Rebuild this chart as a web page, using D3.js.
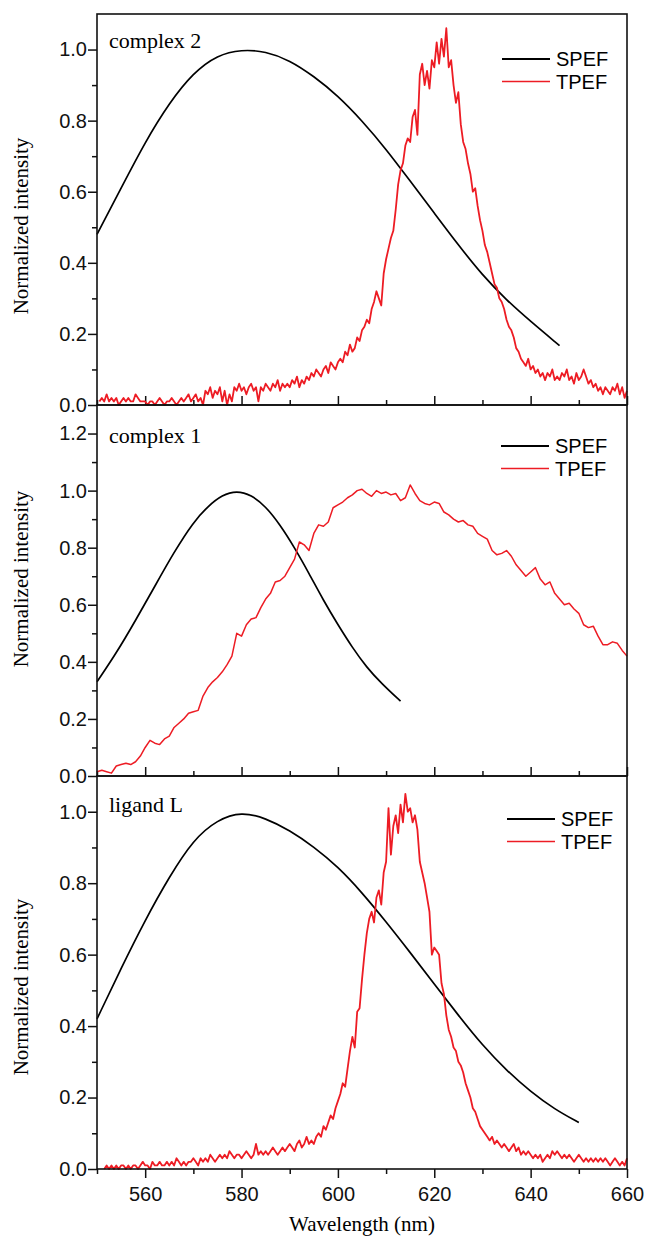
<!DOCTYPE html>
<html>
<head>
<meta charset="utf-8">
<script src="https://cdn.jsdelivr.net/npm/d3@7"></script>
<style>
  body { margin: 0; background: #fff; }
  .tick text { font-family: "Liberation Sans", Arial, sans-serif; font-size: 20px; fill: #111; }
</style>
</head>
<body>
<div class="canvas"></div>
<script>
// ---- data ----

// x axis
var xTicksMajor = [560, 580, 600, 620, 640, 660];
var xTicksMinor = [550, 570, 590, 610, 630, 650];

// y ticks per panel
var yTicks11 = [0.0, 0.2, 0.4, 0.6, 0.8, 1.0];
var yMinor11 = [0.1, 0.3, 0.5, 0.7, 0.9, 1.1];
var yTicks13 = [0.0, 0.2, 0.4, 0.6, 0.8, 1.0, 1.2];
var yMinor13 = [0.1, 0.3, 0.5, 0.7, 0.9, 1.1, 1.3];

// complex 2 - SPEF
var spef2Wl = [550, 555, 560, 565, 570, 575, 580, 585, 590, 595, 600, 605, 610, 615, 620, 625, 630, 635, 640, 646];
var spef2 = [0.48, 0.61, 0.74, 0.85, 0.935, 0.985, 1.0, 0.995, 0.97, 0.925, 0.87, 0.80, 0.72, 0.63, 0.54, 0.45, 0.365, 0.295, 0.235, 0.167];

// complex 2 - TPEF, 550.5 .. 660 nm every 0.5 nm
var tpef2Start = 550.5, tpef2Step = 0.5;
var tpef2 = [
  0.01,0.02,0.01,0.03,0.01,0.02,0.01,0.02,0.00,0.01,
  0.02,0.01,0.02,0.01,0.01,0.03,0.02,0.01,0.01,0.01,
  0.00,0.01,0.01,0.00,0.01,0.02,0.01,0.00,0.01,0.01,
  0.02,0.01,0.00,0.01,0.02,0.01,0.02,0.03,0.01,0.02,
  0.03,0.01,0.02,0.00,0.04,0.03,0.05,0.02,0.04,0.03,
  0.05,0.01,0.04,0.00,0.03,0.01,0.05,0.04,0.06,0.04,
  0.05,0.03,0.05,0.06,0.04,0.05,0.01,0.05,0.04,0.06,
  0.05,0.04,0.06,0.05,0.07,0.04,0.06,0.05,0.06,0.05,
  0.07,0.06,0.08,0.05,0.07,0.06,0.08,0.07,0.09,0.08,
  0.10,0.09,0.08,0.10,0.11,0.09,0.12,0.11,0.10,0.12,
  0.13,0.12,0.15,0.14,0.17,0.15,0.16,0.19,0.18,0.21,
  0.22,0.24,0.23,0.27,0.29,0.32,0.30,0.28,0.37,0.41,
  0.44,0.47,0.49,0.55,0.62,0.66,0.68,0.73,0.75,0.74,
  0.81,0.83,0.76,0.93,0.96,0.90,0.94,0.89,0.97,0.95,
  1.02,0.96,1.03,0.98,1.06,0.95,0.97,0.90,0.85,0.88,
  0.79,0.74,0.72,0.68,0.65,0.60,0.61,0.56,0.52,0.49,
  0.45,0.43,0.40,0.37,0.34,0.33,0.30,0.29,0.27,0.24,
  0.22,0.21,0.19,0.16,0.15,0.13,0.12,0.11,0.13,0.10,
  0.11,0.09,0.10,0.08,0.09,0.07,0.09,0.08,0.10,0.07,
  0.08,0.07,0.09,0.08,0.10,0.07,0.08,0.06,0.09,0.07,
  0.08,0.10,0.08,0.06,0.07,0.05,0.06,0.04,0.05,0.03,
  0.05,0.04,0.03,0.05,0.04,0.06,0.03,0.05,0.02,0.04
];

// complex 1 - SPEF
var spef1Wl = [550, 554, 558, 562, 566, 570, 573, 576, 579, 582, 585, 588, 591, 594, 597, 600, 603, 606, 609, 613];
var spef1 = [0.33, 0.43, 0.545, 0.665, 0.785, 0.89, 0.945, 0.985, 1.0, 0.985, 0.945, 0.88, 0.80, 0.71, 0.615, 0.53, 0.45, 0.38, 0.325, 0.262];

// complex 1 - TPEF, 550 .. 660 nm every 1 nm
var tpef1Start = 550, tpef1Step = 1;
var tpef1 = [
  0.015,
  0.02,0.015,0.01,0.035,0.04,0.045,0.04,0.05,0.07,0.10,
  0.125,0.115,0.11,0.13,0.14,0.17,0.185,0.20,0.22,0.225,
  0.23,0.28,0.31,0.33,0.345,0.365,0.39,0.42,0.50,0.49,
  0.53,0.55,0.555,0.59,0.62,0.64,0.68,0.685,0.70,0.73,
  0.76,0.82,0.81,0.79,0.85,0.88,0.875,0.89,0.94,0.95,
  0.96,0.975,0.985,1.0,1.005,0.99,0.98,1.0,0.99,0.995,
  0.985,0.99,0.965,0.975,1.02,0.99,0.965,0.955,0.95,0.96,
  0.955,0.925,0.915,0.90,0.89,0.895,0.88,0.875,0.85,0.84,
  0.83,0.79,0.775,0.78,0.79,0.77,0.74,0.72,0.70,0.715,
  0.73,0.69,0.67,0.68,0.64,0.62,0.60,0.605,0.585,0.57,
  0.53,0.52,0.525,0.49,0.46,0.46,0.47,0.465,0.44,0.42
];

// ligand L - SPEF
var spefLWl = [550, 555, 560, 565, 570, 575, 580, 585, 590, 595, 600, 605, 610, 615, 620, 625, 630, 635, 640, 645, 650];
var spefL = [0.42, 0.562, 0.697, 0.818, 0.922, 0.978, 1.0, 0.982, 0.948, 0.902, 0.846, 0.774, 0.692, 0.606, 0.518, 0.43, 0.346, 0.276, 0.216, 0.167, 0.13];

// ligand L - TPEF, 551.5 .. 660 nm every 0.5 nm
var tpefLStart = 551.5, tpefLStep = 0.5;
var tpefL = [
  0.00,0.01,0.00,0.01,0.00,0.01,0.00,0.01,
  0.01,0.00,0.01,0.00,0.01,0.01,0.00,0.01,0.02,0.01,
  0.01,0.00,0.02,0.01,0.01,0.02,0.01,0.01,0.02,0.01,
  0.02,0.01,0.03,0.02,0.01,0.02,0.01,0.02,0.02,0.03,
  0.02,0.01,0.03,0.02,0.03,0.02,0.04,0.03,0.02,0.03,
  0.04,0.03,0.04,0.03,0.05,0.04,0.03,0.04,0.04,0.03,
  0.04,0.05,0.04,0.03,0.04,0.07,0.04,0.05,0.04,0.05,
  0.04,0.05,0.06,0.05,0.04,0.05,0.06,0.05,0.06,0.07,
  0.06,0.05,0.07,0.08,0.06,0.07,0.09,0.07,0.08,0.07,
  0.09,0.10,0.09,0.12,0.11,0.13,0.15,0.14,0.17,0.19,
  0.21,0.24,0.23,0.28,0.33,0.37,0.34,0.44,0.45,0.53,
  0.60,0.66,0.70,0.72,0.69,0.76,0.78,0.74,0.83,0.86,
  1.01,0.88,0.96,0.99,0.94,1.02,0.97,1.05,1.00,1.01,
  0.97,0.99,0.95,0.86,0.83,0.80,0.76,0.72,0.60,0.62,
  0.61,0.60,0.52,0.49,0.43,0.39,0.37,0.34,0.33,0.30,
  0.29,0.27,0.24,0.22,0.20,0.17,0.16,0.14,0.12,0.11,
  0.10,0.09,0.08,0.09,0.07,0.08,0.07,0.06,0.07,0.06,
  0.05,0.06,0.07,0.05,0.06,0.04,0.05,0.04,0.05,0.04,
  0.03,0.04,0.03,0.04,0.02,0.03,0.04,0.03,0.05,0.04,
  0.05,0.04,0.03,0.04,0.03,0.04,0.03,0.02,0.03,0.04,
  0.03,0.02,0.03,0.02,0.03,0.02,0.03,0.02,0.03,0.02,
  0.03,0.02,0.01,0.02,0.03,0.02,0.01,0.02,0.01,0.03
];

var legendNames = ["SPEF", "TPEF"];

// ---- helpers ----
function pairs(wl, vals) {
    return vals.map((v, i) => [wl[i], v]);
}
function gridPairs(start, step, vals) {
    return vals.map((v, i) => [start + i * step, v]);
}

var width = 648, height = 1239;
var left = 97, right = 627;
var red = "#ed1c24";

var panels = [
    { top: 14, bottom: 405, ymax: 1.1, ticks: yTicks11, minor: yMinor11, label: "complex 2", labelY: 48,
      spef: pairs(spef2Wl, spef2), tpef: gridPairs(tpef2Start, tpef2Step, tpef2),
      legX: 502, legY: 59, titleY: 226 },
    { top: 405, bottom: 776, ymax: 1.3, ticks: yTicks13, minor: yMinor13, label: "complex 1", labelY: 443,
      spef: pairs(spef1Wl, spef1), tpef: gridPairs(tpef1Start, tpef1Step, tpef1),
      legX: 501, legY: 446, titleY: 579 },
    { top: 776, bottom: 1169, ymax: 1.1, ticks: yTicks11, minor: yMinor11, label: "ligand L", labelY: 812,
      spef: pairs(spefLWl, spefL), tpef: gridPairs(tpefLStart, tpefLStep, tpefL),
      legX: 507, legY: 819, titleY: 987 }
];

var svg = d3.select(".canvas").append("svg")
    .attr("width", width)
    .attr("height", height);

var x = d3.scaleLinear().domain([550, 660]).range([left, right]);

panels.forEach((p, k) => {
    var y = d3.scaleLinear().domain([0, p.ymax]).range([p.bottom, p.top]);
    var g = svg.append("g");
    var last = (k === panels.length - 1);

    // y axis, major + minor, ticks outward
    g.append("g")
        .attr("transform", `translate(${left},0)`)
        .call(d3.axisLeft(y).tickValues(p.ticks).tickSize(9).tickPadding(1).tickFormat(d3.format(".1f")))
        .call(a => a.select(".domain").remove());
    g.append("g")
        .attr("transform", `translate(${left},0)`)
        .call(d3.axisLeft(y).tickValues(p.minor.filter(v => v < p.ymax)).tickSize(5).tickFormat(""))
        .call(a => a.select(".domain").remove());

    // x axis: inward for upper panels, outward with labels for the last one
    if (last) {
        g.append("g")
            .attr("transform", `translate(0,${p.bottom})`)
            .call(d3.axisBottom(x).tickValues(xTicksMajor).tickSize(9).tickPadding(9).tickFormat(d3.format("d")))
            .call(a => a.select(".domain").remove());
        g.append("g")
            .attr("transform", `translate(0,${p.bottom})`)
            .call(d3.axisBottom(x).tickValues(xTicksMinor).tickSize(5).tickFormat(""))
            .call(a => a.select(".domain").remove());
    } else {
        g.append("g")
            .attr("transform", `translate(0,${p.bottom})`)
            .call(d3.axisBottom(x).tickValues(xTicksMajor).tickSize(-9).tickFormat(""))
            .call(a => a.select(".domain").remove());
        g.append("g")
            .attr("transform", `translate(0,${p.bottom})`)
            .call(d3.axisBottom(x).tickValues(xTicksMinor).tickSize(-5).tickFormat(""))
            .call(a => a.select(".domain").remove());
    }

    g.selectAll(".tick line").attr("stroke", "#111").attr("stroke-width", 1.5);

    // curves
    var smooth = d3.line().x(d => x(d[0])).y(d => y(d[1])).curve(d3.curveBasis);
    var jagged = d3.line().x(d => x(d[0])).y(d => y(d[1]));
    g.append("path")
        .datum(p.spef)
        .attr("fill", "none")
        .attr("stroke", "#000")
        .attr("stroke-width", 1.7)
        .attr("d", smooth);
    g.append("path")
        .datum(p.tpef)
        .attr("fill", "none")
        .attr("stroke", red)
        .attr("stroke-width", k === 1 ? 1.5 : 1.8)
        .attr("stroke-linejoin", "round")
        .attr("d", jagged);

    // frame
    g.append("rect")
        .attr("x", left).attr("y", p.top)
        .attr("width", right - left).attr("height", p.bottom - p.top)
        .attr("fill", "none").attr("stroke", "#111").attr("stroke-width", 1.6);

    // panel label
    g.append("text")
        .attr("x", 109).attr("y", p.labelY)
        .style("font-family", "'Liberation Serif', 'Times New Roman', serif")
        .style("font-size", "22px")
        .text(p.label);

    // legend
    legendNames.forEach((name, i) => {
        var ly = p.legY + i * 22.5;
        g.append("line")
            .attr("x1", p.legX).attr("x2", p.legX + 48)
            .attr("y1", ly).attr("y2", ly)
            .attr("stroke", i === 0 ? "#000" : red)
            .attr("stroke-width", i === 0 ? 2 : 1.6);
        g.append("text")
            .attr("x", p.legX + 54).attr("y", ly + 7)
            .style("font-family", "'Liberation Sans', Arial, sans-serif")
            .style("font-size", "20px")
            .text(name);
    });

    // y title
    g.append("text")
        .attr("transform", `translate(28,${p.titleY}) rotate(-90)`)
        .attr("text-anchor", "middle")
        .style("font-family", "'Liberation Serif', 'Times New Roman', serif")
        .style("font-size", "21px")
        .text("Normalized intensity");
});

// x title
svg.append("text")
    .attr("x", (left + right) / 2).attr("y", 1231)
    .attr("text-anchor", "middle")
    .style("font-family", "'Liberation Serif', 'Times New Roman', serif")
    .style("font-size", "21px")
    .text("Wavelength (nm)");
</script>
</body>
</html>
